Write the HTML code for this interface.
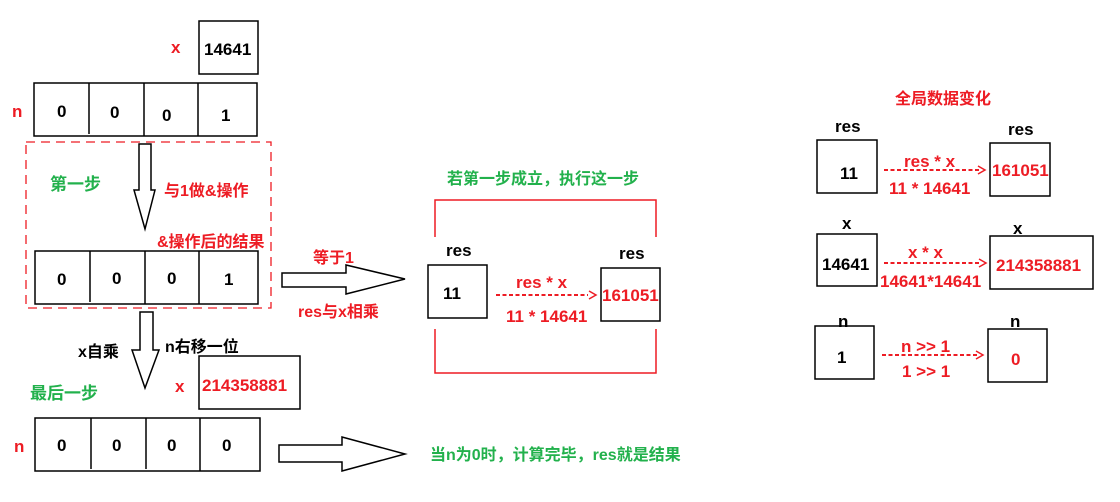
<!DOCTYPE html>
<html><head><meta charset="utf-8"><style>
html,body{margin:0;padding:0;background:#fff;}
svg{display:block;}
text{font-family:"Liberation Sans","Noto Sans CJK SC",sans-serif;font-weight:bold;font-size:17px;}
.r{fill:#ed1c24;} .g{fill:#22b14c;} .k{fill:#000;}
.c{font-size:16px;}
</style></head><body>
<svg width="1120" height="502" viewBox="0 0 1120 502" xmlns="http://www.w3.org/2000/svg">
<g fill="none" stroke="#000" stroke-width="1.5">
<rect x="199" y="21" width="59" height="53"/>
<rect x="34" y="83" width="223" height="53"/>
<line x1="89" y1="83" x2="89" y2="134"/><line x1="144" y1="83" x2="144" y2="136"/><line x1="198" y1="83" x2="198" y2="136"/>
<rect x="35" y="251" width="223" height="53"/>
<line x1="90" y1="251" x2="90" y2="302"/><line x1="145" y1="251" x2="145" y2="304"/><line x1="199" y1="251" x2="199" y2="304"/>
<rect x="35" y="418" width="225" height="53"/>
<line x1="91" y1="418" x2="91" y2="469"/><line x1="146" y1="418" x2="146" y2="469"/><line x1="200" y1="418" x2="200" y2="471"/>
<rect x="199" y="356" width="101" height="53"/>
<polygon points="139,144 151,144 151,190 155,190 145,229 134,190 139,190"/>
<polygon points="140,312 153,312 153,350 159,350 145,388 132,350 140,350"/>
<polygon points="282,273 346,273 346,265 405,279 346,294 346,287 282,287"/>
<polygon points="279,445 342,445 342,437 405,454 342,471 342,462 279,462"/>
<rect x="428" y="265" width="59" height="53"/>
<rect x="601" y="268" width="59" height="53"/>
<rect x="817" y="140" width="60" height="53"/>
<rect x="990" y="143" width="60" height="53"/>
<rect x="817" y="234" width="60" height="52"/>
<rect x="990" y="236" width="103" height="53"/>
<rect x="815" y="326" width="59" height="53"/>
<rect x="988" y="329" width="59" height="53"/>
</g>
<rect x="26" y="142" width="245" height="166" fill="none" stroke="#ed1c24" stroke-width="1.3" stroke-dasharray="9,6"/>
<g fill="none" stroke="#ed1c24" stroke-width="1.5">
<polyline points="435,237 435,200 656,200 656,237"/>
<polyline points="435,329 435,373 656,373 656,329"/>
</g>
<g stroke="#ed1c24" stroke-width="2" stroke-dasharray="4,2.5" fill="none">
<line x1="496" y1="295" x2="588" y2="295"/>
<line x1="884" y1="170" x2="980" y2="170"/>
<line x1="884" y1="263" x2="980" y2="263"/>
<line x1="882" y1="355" x2="978" y2="355"/>
</g>
<g fill="none" stroke="#ed1c24" stroke-width="1.5">
<polyline points="589,291 596,295 589,299"/>
<polyline points="978,166 985,170 978,174"/>
<polyline points="979,259 986,263 979,267"/>
<polyline points="976,351 983,355 976,359"/>
</g>
<text x="171" y="53" class="r">x</text>
<text x="204" y="55" class="k">14641</text>
<text x="12" y="117" class="r">n</text>
<text x="57" y="117" class="k">0</text><text x="110" y="118" class="k">0</text><text x="162" y="121" class="k">0</text><text x="221" y="121" class="k">1</text>
<text x="50" y="190" class="g" font-size="15">第一步</text>
<text x="164" y="196" class="r c">与1做&amp;操作</text>
<text x="157" y="247" class="r c">&amp;操作后的结果</text>
<text x="57" y="285" class="k">0</text><text x="112" y="284" class="k">0</text><text x="167" y="284" class="k">0</text><text x="224" y="285" class="k">1</text>
<text x="313" y="263" class="r c">等于1</text>
<text x="298" y="317" class="r c">res与x相乘</text>
<text x="78" y="357" class="k c">x自乘</text>
<text x="165" y="352" class="k c">n右移一位</text>
<text x="30" y="399" class="g" font-size="15">最后一步</text>
<text x="175" y="392" class="r">x</text>
<text x="202" y="391" class="r">214358881</text>
<text x="14" y="452" class="r">n</text>
<text x="57" y="451" class="k">0</text><text x="112" y="451" class="k">0</text><text x="167" y="451" class="k">0</text><text x="222" y="451" class="k">0</text>
<text x="430" y="460" class="g c">当n为0时，计算完毕，res就是结果</text>
<text x="447" y="184" class="g c">若第一步成立，执行这一步</text>
<text x="446" y="256" class="k">res</text>
<text x="619" y="259" class="k">res</text>
<text x="443" y="299" class="k">11</text>
<text x="516" y="288" class="r">res * x</text>
<text x="506" y="322" class="r">11 * 14641</text>
<text x="602" y="301" class="r">161051</text>
<text x="895" y="104" class="r c">全局数据变化</text>
<text x="835" y="132" class="k">res</text>
<text x="1008" y="135" class="k">res</text>
<text x="840" y="179" class="k">11</text>
<text x="904" y="167" class="r">res * x</text>
<text x="889" y="194" class="r">11 * 14641</text>
<text x="992" y="176" class="r">161051</text>
<text x="842" y="229" class="k">x</text>
<text x="1013" y="234" class="k">x</text>
<text x="822" y="270" class="k">14641</text>
<text x="908" y="258" class="r">x * x</text>
<text x="880" y="287" class="r">14641*14641</text>
<text x="996" y="271" class="r">214358881</text>
<text x="838" y="327" class="k">n</text>
<text x="1010" y="327" class="k">n</text>
<text x="837" y="363" class="k">1</text>
<text x="1011" y="365" class="r">0</text>
<text x="901" y="352" class="r">n &gt;&gt; 1</text>
<text x="902" y="377" class="r">1 &gt;&gt; 1</text>
</svg>
</body></html>
